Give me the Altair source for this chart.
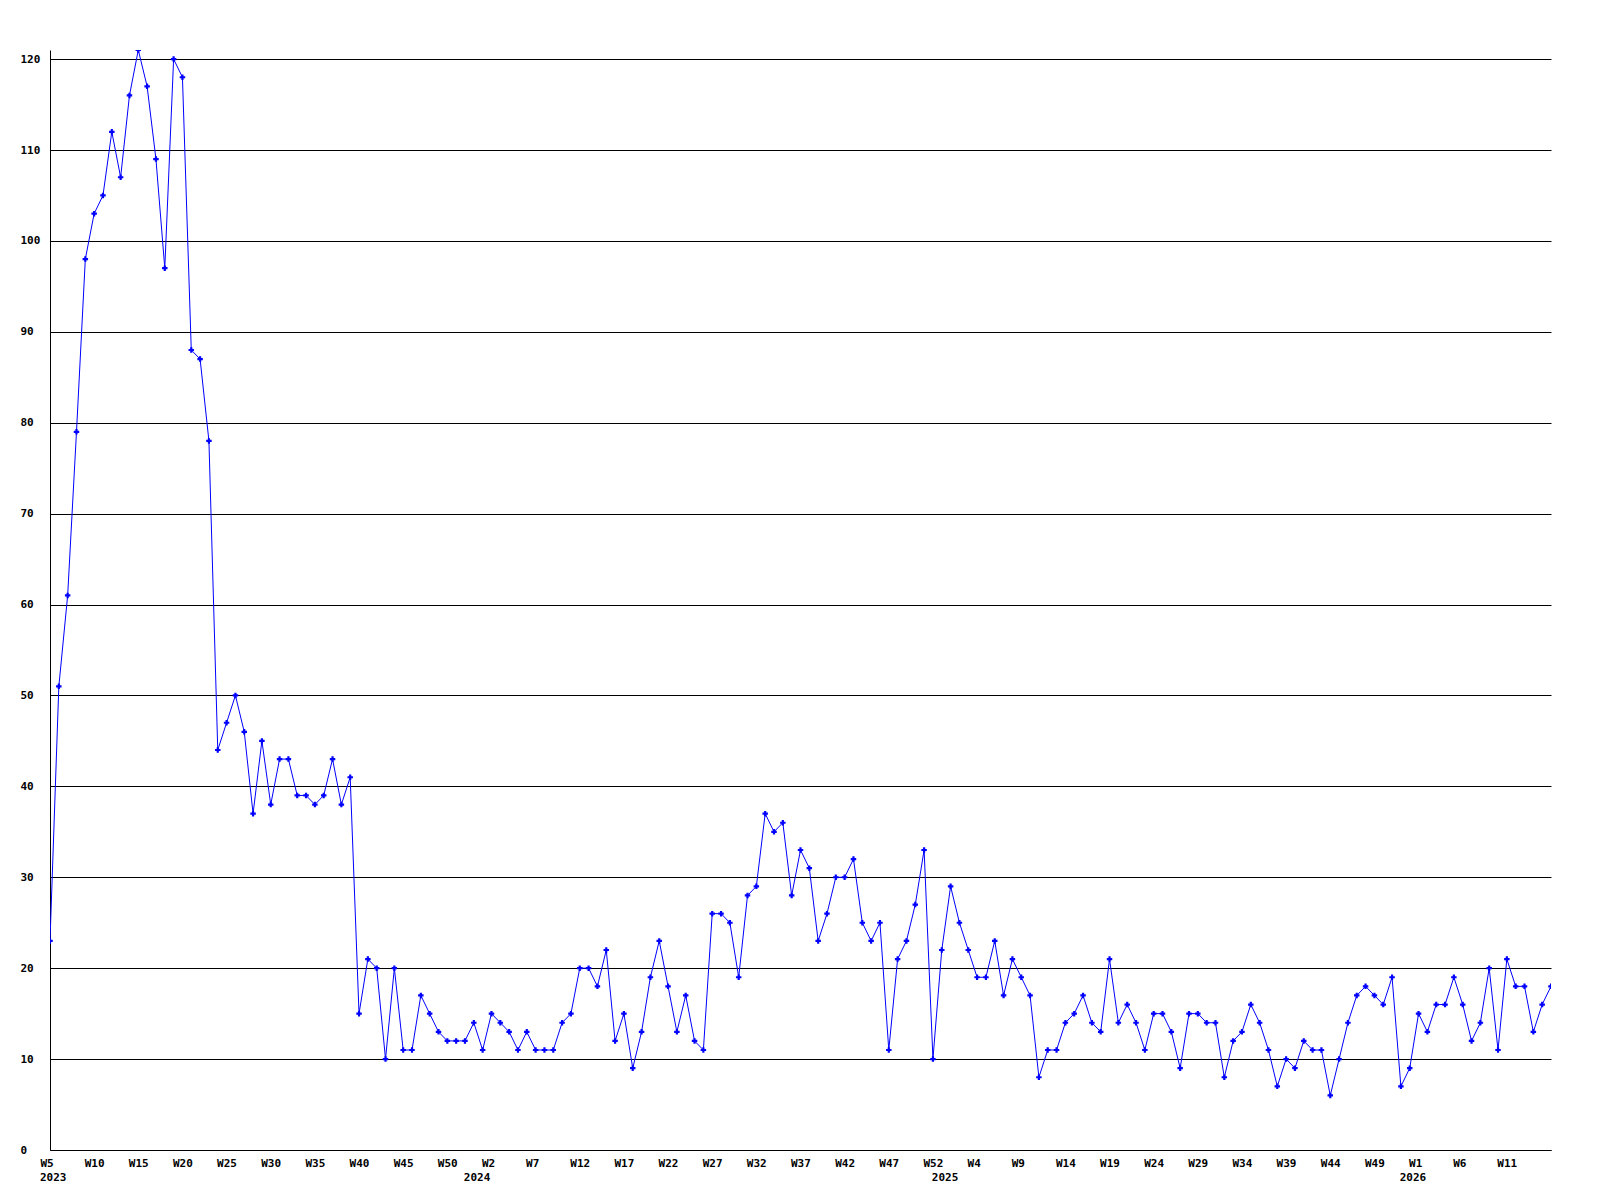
import altair as alt
import pandas as pd

# weekly values, 2023-W5 ... 2026 (one value per week, evenly spaced)
values = [23, 51, 61, 79, 98, 103, 105, 112, 107, 116,
          121, 117, 109, 97, 120, 118, 88, 87, 78, 44,
          47, 50, 46, 37, 45, 38, 43, 43, 39, 39,
          38, 39, 43, 38, 41, 15, 21, 20, 10, 20,
          11, 11, 17, 15, 13, 12, 12, 12, 14, 11,
          15, 14, 13, 11, 13, 11, 11, 11, 14, 15,
          20, 20, 18, 22, 12, 15, 9, 13, 19, 23,
          18, 13, 17, 12, 11, 26, 26, 25, 19, 28,
          29, 37, 35, 36, 28, 33, 31, 23, 26, 30,
          30, 32, 25, 23, 25, 11, 21, 23, 27, 33,
          10, 22, 29, 25, 22, 19, 19, 23, 17, 21,
          19, 17, 8, 11, 11, 14, 15, 17, 14, 13,
          21, 14, 16, 14, 11, 15, 15, 13, 9, 15,
          15, 14, 14, 8, 12, 13, 16, 14, 11, 7,
          10, 9, 12, 11, 11, 6, 10, 14, 17, 18,
          17, 16, 19, 7, 9, 15, 13, 16, 16, 19,
          16, 12, 14, 20, 11, 21, 18, 18, 13, 16, 18]

week_labels = ["W5", "W10", "W15", "W20", "W25", "W30", "W35", "W40", "W45", "W50",
               "W2", "W7", "W12", "W17", "W22", "W27", "W32", "W37", "W42", "W47",
               "W52", "W4", "W9", "W14", "W19", "W24", "W29", "W34", "W39", "W44",
               "W49", "W1", "W6", "W11"]
week_label_pos = [i * 5 for i in range(len(week_labels))]

year_labels = ["2023", "2024", "2025", "2026"]
year_label_pos = [0, 48, 101, 154]

y_ticks = list(range(0, 121, 10))

FONT = "DejaVu Sans Mono"
W = 1501
H = 1100

df = pd.DataFrame({"idx": list(range(len(values))), "value": values})
years = pd.DataFrame({"idx": year_label_pos, "label": year_labels})

label_array = "[" + ",".join("'" + s + "'" for s in week_labels) + "]"

x_scale = alt.Scale(domain=[0, len(values) - 1], nice=False, zero=False)
y_scale = alt.Scale(domain=[0, 121], nice=False)

x_enc = alt.X(
    "idx:Q",
    scale=x_scale,
    axis=alt.Axis(
        values=week_label_pos,
        labelExpr=label_array + "[round(datum.value / 5)]",
        title=None,
        grid=False,
        ticks=False,
        tickSize=0,
        domain=True,
        domainColor="black",
        domainWidth=1,
        labelAlign="left",
        labelBaseline="top",
        labelOffset=-10,
        labelPadding=7,
        labelFont=FONT,
        labelFontSize=11,
        labelFontWeight="bold",
        labelColor="black",
        labelFlush=False,
        labelOverlap=False,
    ),
)

y_enc = alt.Y(
    "value:Q",
    scale=y_scale,
    axis=alt.Axis(
        values=y_ticks,
        title=None,
        grid=True,
        gridColor="black",
        gridOpacity=1,
        gridWidth=1,
        ticks=False,
        tickSize=0,
        domain=True,
        domainColor="black",
        domainWidth=1,
        labelAlign="left",
        labelBaseline="middle",
        labelPadding=30,
        labelFont=FONT,
        labelFontSize=11,
        labelFontWeight="bold",
        labelColor="black",
        labelOverlap=False,
    ),
)

line = alt.Chart(df).mark_line(color="#0000ff", strokeWidth=1, clip=True).encode(
    x=x_enc, y=y_enc
)

points = alt.Chart(df).mark_point(
    shape="cross", filled=True, size=30, color="#0000ff", opacity=1, clip=True
).encode(x=alt.X("idx:Q", scale=x_scale), y=alt.Y("value:Q", scale=y_scale))

year_text = alt.Chart(years).mark_text(
    align="left",
    baseline="top",
    dx=-10,
    font=FONT,
    fontSize=11,
    fontWeight="bold",
    color="black",
).encode(
    x=alt.X("idx:Q", scale=x_scale),
    y=alt.value(H + 22),
    text="label:N",
)

chart = (
    alt.layer(line, points, year_text)
    .properties(
        width=W,
        height=H,
        autosize=alt.AutoSizeParams(type="none"),
        padding={"left": 42, "top": 42, "right": 20, "bottom": 40},
        background="white",
    )
    .configure_view(stroke=None)
)

chart.save("out.html", embed_options={"renderer": "svg", "actions": False})
